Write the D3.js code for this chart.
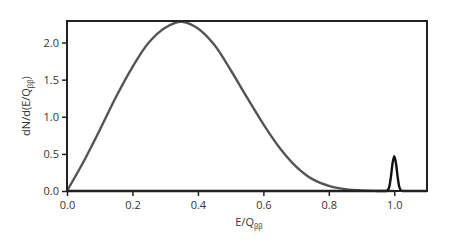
<!DOCTYPE html>
<html>
<head>
<meta charset="utf-8">
<script src="https://cdn.jsdelivr.net/npm/d3@7"></script>
<style>
  body { margin: 0; background: #fff; }
  svg text { font-family: "Open Sans", "DejaVu Sans", sans-serif; fill: #333; }
</style>
</head>
<body>
<svg id="chart" width="456" height="242"></svg>
<script>
// continuum (2 neutrino) spectrum
const contX = [0, 0.05, 0.10, 0.15, 0.20, 0.25, 0.30, 0.35, 0.40, 0.45, 0.50,
               0.55, 0.60, 0.65, 0.70, 0.75, 0.80, 0.85, 0.90, 0.95, 1.0];
const contY = [0, 0.39, 0.82, 1.27, 1.67, 2.00, 2.20, 2.28, 2.19, 1.97, 1.63,
               1.26, 0.90, 0.58, 0.33, 0.16, 0.07, 0.025, 0.006, 0.001, 0];

// narrow peak at E/Q = 1
const peakX = [0, 0.97, 0.975, 0.98, 0.985, 0.99, 0.995, 1.0, 1.005, 1.01, 1.015, 1.02, 1.025, 1.03, 1.1];
const peakY = [0, 0, 0, 0.01, 0.06, 0.20, 0.38, 0.47, 0.38, 0.20, 0.06, 0.01, 0, 0, 0];

const xTicks = [0, 0.2, 0.4, 0.6, 0.8, 1.0];
const yTicks = [0, 0.5, 1.0, 1.5, 2.0];

const svg = d3.select('#chart');
const m = { left: 67, top: 21, right: 427, bottom: 191 };

const x = d3.scaleLinear().domain([0, 1.1]).range([m.left, m.right]);
const y = d3.scaleLinear().domain([0, 2.29]).range([m.bottom, m.top]);

// continuum
svg.append('path')
  .datum(d3.zip(contX, contY))
  .attr('d', d3.line().x(d => x(d[0])).y(d => y(Math.max(0, d[1]))).curve(d3.curveCatmullRom.alpha(0.5)))
  .attr('fill', 'none')
  .attr('stroke', '#555')
  .attr('stroke-width', 2.4);

// peak
svg.append('path')
  .datum(d3.zip(peakX, peakY))
  .attr('d', d3.line().x(d => x(d[0])).y(d => y(d[1])).curve(d3.curveMonotoneX))
  .attr('fill', 'none')
  .attr('stroke', '#111')
  .attr('stroke-width', 2.4);

// axes
const xAxis = svg.append('g')
  .attr('transform', `translate(0,${m.bottom})`)
  .call(d3.axisBottom(x).tickValues(xTicks).tickFormat(d3.format('.1f')).tickSize(5).tickPadding(5));
const yAxis = svg.append('g')
  .attr('transform', `translate(${m.left},0)`)
  .call(d3.axisLeft(y).tickValues(yTicks).tickFormat(d3.format('.1f')).tickSize(5).tickPadding(3));

[xAxis, yAxis].forEach(a => {
  a.select('.domain').remove();
  a.selectAll('line').attr('stroke', '#222').attr('stroke-width', 1.5);
  a.selectAll('text').attr('font-size', 11).style('fill', '#333');
});

// frame
svg.append('rect')
  .attr('x', m.left).attr('y', m.top)
  .attr('width', m.right - m.left).attr('height', m.bottom - m.top)
  .attr('fill', 'none').attr('stroke', '#222').attr('stroke-width', 2);

// labels
const xl = svg.append('text')
  .attr('x', (m.left + m.right) / 2 + 2).attr('y', 226)
  .attr('text-anchor', 'middle').attr('font-size', 11);
xl.append('tspan').text('E/Q');
xl.append('tspan').attr('font-size', 7).attr('dy', 3).text('ββ');

const yl = svg.append('text')
  .attr('transform', `translate(30,${(m.top + m.bottom) / 2}) rotate(-90)`)
  .attr('text-anchor', 'middle').attr('font-size', 11);
yl.append('tspan').text('dN/d(E/Q');
yl.append('tspan').attr('font-size', 7).attr('dy', 3).text('ββ');
yl.append('tspan').attr('dy', -3).text(')');
</script>
</body>
</html>
